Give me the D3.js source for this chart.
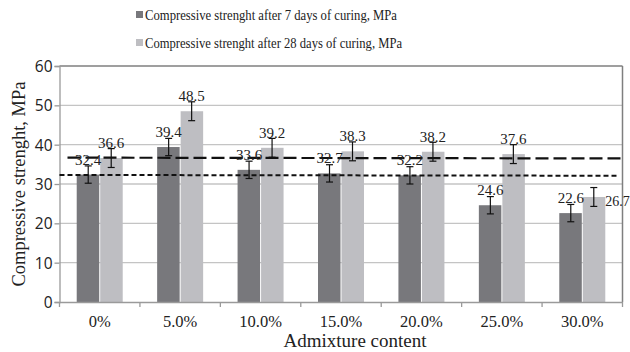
<!DOCTYPE html>
<html><head><meta charset="utf-8">
<script src="https://cdn.jsdelivr.net/npm/d3@7"></script>
<style>body{margin:0;background:#fff}svg{display:block}</style>
</head><body><svg id="c" width="630" height="352"></svg>
<script>
const categories = ["0%","5.0%","10.0%","15.0%","20.0%","25.0%","30.0%"];
const seriesNames = ["Compressive strenght after 7 days of curing, MPa","Compressive strenght after 28 days of curing, MPa"];
const days7 = [32.4,39.4,33.6,32.7,32.2,24.6,22.6];
const days28 = [36.6,48.5,39.2,38.3,38.2,37.6,26.7];
const err7 = [2.2,2.2,2.2,2.2,2.2,2.2,2.2];
const err28 = [2.4,2.4,2.4,2.4,2.4,2.4,2.4];
const yTicks = [0,10,20,30,40,50,60];
const trend28 = [36.7,36.5];
const trend7 = [32.3,32.1];

const svg = d3.select("#c");
const L=59.5, R=622.5, T=66, B=302;
const x = d3.scaleBand().domain(categories).range([L,R]);
const xs = d3.scaleBand().domain([0,1]).range([0,46]);
const y = d3.scaleLinear().domain([0,60]).range([B,T]);
const colors = ["#78787c","#bebec2"];
const serif = "Liberation Serif, serif";
const sans = "Open Sans, sans-serif";

// gridlines
svg.append("g").selectAll("line").data(yTicks.filter(d=>d>0&&d<60)).join("line")
  .attr("x1",L).attr("x2",R).attr("y1",d=>y(d)).attr("y2",d=>y(d))
  .attr("stroke","#c4c4c4").attr("stroke-width",1.3);
// top and right border
svg.append("line").attr("x1",L).attr("x2",R).attr("y1",y(60)).attr("y2",y(60)).attr("stroke","#7f7f7f").attr("stroke-width",1.5);
svg.append("line").attr("x1",R).attr("x2",R).attr("y1",T).attr("y2",B).attr("stroke","#7f7f7f").attr("stroke-width",1.5);

// bars
const data = categories.map((c,i)=>[{c,s:0,v:days7[i],e:err7[i]},{c,s:1,v:days28[i],e:err28[i]}]).flat();
const off = (x.bandwidth()-46)/2;
svg.append("g").selectAll("rect").data(data).join("rect")
  .attr("x",d=>x(d.c)+off+xs(d.s)+(d.s?0.5:0))
  .attr("width",xs.bandwidth()-0.5)
  .attr("y",d=>y(d.v)).attr("height",d=>B-y(d.v))
  .attr("fill",d=>colors[d.s]);

// axes
const xAxis = svg.append("g").attr("transform",`translate(0,${B})`).call(d3.axisBottom(x).tickSize(0).tickFormat(""));
xAxis.select(".domain").attr("stroke","#9a9a9a").attr("stroke-width",1.3);
xAxis.selectAll(".tick").remove();
xAxis.selectAll("line.t").data(d3.range(categories.length+1)).join("line").attr("class","t")
  .attr("x1",i=>L+i*x.bandwidth()).attr("x2",i=>L+i*x.bandwidth()).attr("y1",0).attr("y2",5)
  .attr("stroke","#9a9a9a").attr("stroke-width",1.3);
const yAxis = svg.append("g").attr("transform",`translate(${L},0)`).call(d3.axisLeft(y).tickValues(yTicks).tickSize(5).tickPadding(2));
yAxis.select(".domain").attr("stroke","#9a9a9a").attr("stroke-width",1.3);
yAxis.selectAll(".tick line").attr("stroke","#9a9a9a").attr("stroke-width",1.3);
yAxis.selectAll(".tick text").style("font-family",sans).style("font-size","15.5px").attr("fill","#222").attr("dy","0.36em");

svg.append("g").selectAll("text").data(categories).join("text")
  .attr("x",d=>x(d)+x.bandwidth()/2).attr("y",327)
  .attr("text-anchor","middle").style("font-family",serif).style("font-size","16.5px").attr("fill","#222").text(d=>d);

// error bars
const eb = svg.append("g").attr("stroke","#111").attr("stroke-width",1.2);
data.forEach(d=>{
  const cx = x(d.c)+off+xs(d.s)+xs.bandwidth()/2;
  eb.append("line").attr("x1",cx).attr("x2",cx).attr("y1",y(d.v+d.e)).attr("y2",y(d.v-d.e));
  eb.append("line").attr("x1",cx-3.5).attr("x2",cx+3.5).attr("y1",y(d.v+d.e)).attr("y2",y(d.v+d.e));
  eb.append("line").attr("x1",cx-3.5).attr("x2",cx+3.5).attr("y1",y(d.v-d.e)).attr("y2",y(d.v-d.e));
});

// trend lines
svg.append("line").attr("x1",L+8).attr("x2",R-2).attr("y1",y(trend28[0])).attr("y2",y(trend28[1]))
  .attr("stroke","#111").attr("stroke-width",2.2).attr("stroke-dasharray","13,5");
svg.append("line").attr("x1",L).attr("x2",R-4).attr("y1",y(trend7[0])).attr("y2",y(trend7[1]))
  .attr("stroke","#111").attr("stroke-width",2).attr("stroke-dasharray","5,3");

// value labels
const outside = d => d.c==="30.0%" && d.s===1;
svg.append("g").selectAll("text").data(data).join("text")
  .attr("x",d=>outside(d) ? x(d.c)+off+46 : x(d.c)+off+xs(d.s)+xs.bandwidth()/2)
  .attr("y",d=>outside(d) ? y(d.v)+9 : y(d.v)-10)
  .attr("text-anchor",d=>outside(d)?"start":"middle")
  .style("font-family",serif).style("font-size",d=>outside(d)?"14px":"15px").attr("fill","#222")
  .text(d=>d.v.toFixed(1));

// axis titles
svg.append("text").attr("x",355).attr("y",347).attr("text-anchor","middle")
  .style("font-family",serif).style("font-size","19px").attr("fill","#222").text("Admixture content");
svg.append("text").attr("transform",`translate(25,184) rotate(-90)`).attr("text-anchor","middle")
  .style("font-family",serif).style("font-size","18.5px").attr("fill","#222").text("Compressive strenght, MPa");

// legend
const lg = svg.append("g");
seriesNames.forEach((n,i)=>{
  const yy = 15+i*28;
  lg.append("rect").attr("x",136).attr("y",yy-4).attr("width",7).attr("height",7).attr("fill",colors[i]);
  lg.append("text").attr("x",145).attr("y",yy+5).style("font-family",serif).style("font-size","14px").attr("fill","#222")
    .attr("textLength",i?257:252).attr("lengthAdjust","spacingAndGlyphs").text(n);
});
</script></body></html>
